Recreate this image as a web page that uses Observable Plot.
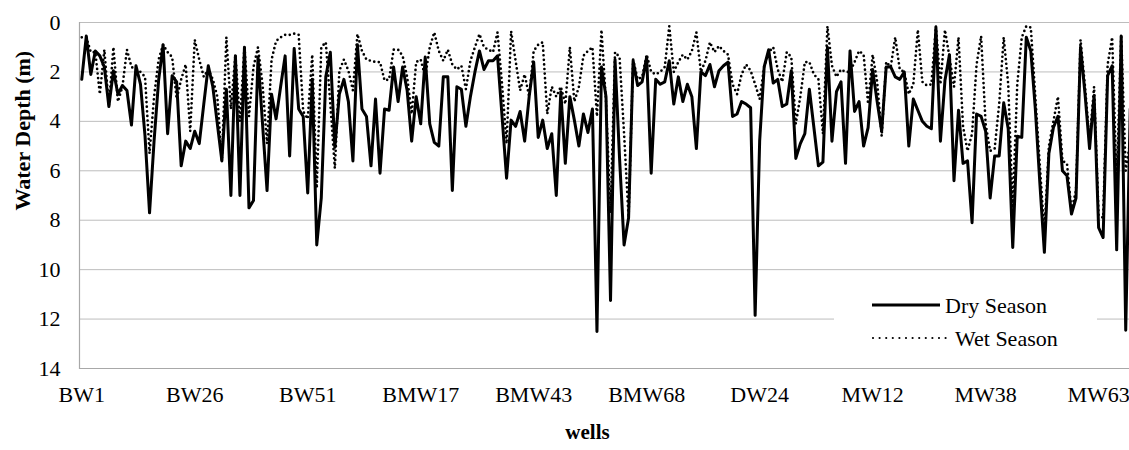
<!DOCTYPE html>
<html><head><meta charset="utf-8">
<script src="https://cdn.jsdelivr.net/npm/d3@7"></script>
<script src="https://cdn.jsdelivr.net/npm/@observablehq/plot@0.6"></script>
<style>
body{margin:0;background:#fff;}
#wrap{position:relative;width:1129px;height:450px;overflow:hidden;font-family:"Liberation Serif",serif;}
#legend{position:absolute;left:834px;top:284px;width:263px;height:72px;background:#fff;}
#legend text{font-family:"Liberation Serif",serif;font-size:22px;fill:#000;}
</style></head><body>
<div id="wrap"><div id="chart"></div>
<div id="legend"><svg width="263" height="72">
<line x1="38" y1="21" x2="106" y2="21" stroke="#000" stroke-width="3"/>
<text x="111" y="28.5">Dry Season</text>
<line x1="39" y1="54" x2="112" y2="54" stroke="#000" stroke-width="2.2" stroke-dasharray="0 6.6" stroke-linecap="round"/>
<text x="121" y="61.5">Wet Season</text>
</svg></div></div>
<script>
const wellGroups = [["BW",1,59],["BMW",1,29],["BMW",31,69],["DW",1,37],["MW",1,24],["MW",26,70]];
const tickLabels = ["BW1","BW26","BW51","BMW17","BMW43","BMW68","DW24","MW12","MW38","MW63"];
const yTicks = [0,2,4,6,8,10,12,14];
const drySeason = [
2.3,0.55,2.1,1.15,1.35,1.8,3.4,1.95,2.9,2.55,
2.75,4.15,1.75,2.5,4.6,7.7,4.8,2.35,0.9,4.5,
2.15,2.4,5.8,4.8,5.1,4.4,4.9,3.3,1.75,2.6,
4.1,5.6,2.7,7.0,1.35,7.0,1.0,7.5,7.2,1.4,
4.1,6.8,2.9,3.9,2.6,1.35,5.4,1.05,3.5,3.8,
6.9,2.3,9.0,7.1,2.2,1.2,5.05,2.9,2.3,3.2,
5.6,0.9,3.5,3.8,5.8,3.1,6.1,3.5,3.55,1.8,
3.2,1.8,2.75,4.8,3.0,4.1,1.4,4.1,4.85,5.0,
2.2,2.2,6.8,2.6,2.7,4.2,3.0,2.0,1.15,1.9,
1.55,1.55,1.35,3.8,6.3,3.95,4.2,3.6,4.8,3.0,
1.6,4.65,3.95,5.1,4.5,7.0,2.8,5.7,3.0,3.95,
5.0,3.7,4.45,3.5,12.5,1.8,3.0,11.25,1.5,5.5,
9.0,7.9,1.55,2.55,2.4,1.4,6.1,2.3,2.5,2.4,
1.55,3.3,2.2,3.2,2.5,3.0,5.1,2.0,2.15,1.7,
2.6,1.95,1.75,1.6,3.8,3.7,3.2,3.3,3.45,11.85,
4.8,1.8,1.1,2.45,2.3,3.4,3.3,1.95,5.5,4.9,
4.5,2.7,4.25,5.8,5.65,1.0,4.8,2.8,2.4,5.7,
1.15,3.6,3.2,5.0,4.25,1.9,3.2,4.4,1.8,1.8,
2.2,2.3,2.0,5.0,3.1,3.55,4.0,4.2,4.3,0.2,
4.8,2.35,1.3,6.4,3.55,5.7,5.6,8.1,3.7,3.8,
4.4,7.1,5.4,5.4,3.25,4.3,9.1,4.6,4.65,0.6,
1.15,3.5,6.5,9.3,5.3,4.25,3.8,6.0,6.2,7.75,
7.1,1.0,2.9,5.1,2.96,8.3,8.7,2.15,1.75,9.2,
0.55,12.45,3.5];
const wetSeason = [
0.6,0.6,1.2,1.2,2.9,1.1,3.4,1.0,3.2,2.6,
1.1,1.8,1.9,2.0,2.2,5.3,3.0,1.5,0.9,1.2,
1.4,3.1,2.3,1.7,4.4,0.7,1.5,2.2,1.9,2.3,
3.0,5.6,0.6,3.5,1.3,4.0,0.95,3.8,1.8,1.0,
2.5,4.9,1.5,0.75,0.6,0.5,0.5,0.45,0.5,3.6,
3.9,1.3,6.7,1.0,0.8,3.3,5.9,1.95,1.5,1.95,
2.75,0.47,1.15,1.5,1.55,1.6,1.6,2.35,2.3,1.1,
1.1,1.35,2.2,3.7,1.6,1.5,2.2,1.0,0.4,1.15,
1.55,1.1,1.7,1.9,1.75,2.7,1.55,1.0,0.47,1.0,
1.1,1.2,0.4,2.5,4.9,0.35,1.55,2.75,2.1,3.0,
1.15,0.9,0.8,3.7,2.6,3.0,2.6,3.3,1.0,3.2,
2.6,1.35,1.15,1.0,3.8,0.3,3.2,7.7,1.2,1.4,
4.5,7.9,1.5,2.3,2.2,1.3,2.0,2.1,2.0,1.8,
0.15,2.0,1.6,1.3,1.5,1.15,0.4,2.0,1.55,0.8,
1.2,0.95,1.15,1.3,2.5,2.9,2.1,1.7,1.95,2.5,
3.1,1.8,1.2,1.0,1.9,2.4,1.2,1.4,4.1,3.0,
1.6,1.6,2.1,2.3,4.5,0.15,1.75,2.2,1.9,2.0,
2.0,1.6,1.15,1.3,3.3,1.3,2.4,4.6,1.6,1.8,
0.6,1.9,2.0,2.9,2.5,0.3,2.4,2.55,2.5,0.15,
2.5,0.3,1.4,2.6,0.6,4.2,5.2,4.5,1.7,0.55,
4.1,5.2,5.1,3.3,0.6,2.5,7.5,2.5,0.6,0.15,
0.2,3.0,5.8,8.5,5.0,4.0,3.0,5.6,5.7,7.6,
6.8,0.7,2.6,4.8,2.6,7.8,7.9,1.7,0.6,6.5,
0.5,6.0,4.8];

const wells = wellGroups.flatMap(([p, a, b]) => d3.range(a, b + 1).map(n => p + n));
const dry = wells.map((w, i) => ({well: w, depth: drySeason[i]}));
const wet = wells.map((w, i) => ({well: w, depth: wetSeason[i]}));
const serifFont = "Liberation Serif";

const chart = Plot.plot({
  width: 1129,
  height: 450,
  marginLeft: 79,
  marginRight: 0,
  marginTop: 22,
  marginBottom: 82,
  style: {fontFamily: serifFont, fontSize: "22px", color: "#000", background: "#fff"},
  x: {type: "point", domain: wells, padding: 0.5, range: [79, 1132]},
  y: {domain: [0, 14], reverse: true},
  marks: [
    Plot.gridY([0, 2, 4, 6, 8, 10, 12], {stroke: "#bdbdbd", strokeOpacity: 1, strokeWidth: 1}),
    Plot.ruleY([14], {stroke: "#a8a8a8", strokeWidth: 1.2}),
    Plot.frame({anchor: "left", stroke: "#a8a8a8", strokeWidth: 1.2}),
    Plot.axisY(yTicks, {tickSize: 0, tickPadding: 19, fontSize: 22, fontFamily: serifFont, label: null}),
    Plot.axisX(tickLabels, {tickSize: 0, tickPadding: 18, fontSize: 22, fontFamily: serifFont, label: null}),
    Plot.line(dry, {x: "well", y: "depth", stroke: "#000", strokeWidth: 3, strokeLinejoin: "round"}),
    Plot.line(wet, {x: "well", y: "depth", stroke: "#000", strokeWidth: 2.7, strokeDasharray: "0 4.6", strokeLinecap: "round", strokeLinejoin: "round"}),
    Plot.text(["Water Depth (m)"], {frameAnchor: "left", rotate: -90, dx: -57, dy: 15, fontWeight: "bold", fontSize: 22, fontFamily: serifFont}),
    Plot.text(["wells"], {frameAnchor: "bottom", dx: -17, dy: 64, fontWeight: "bold", fontSize: 21, fontFamily: serifFont, lineAnchor: "middle"})
  ]
});
document.getElementById("chart").appendChild(chart);
</script>
</body></html>
